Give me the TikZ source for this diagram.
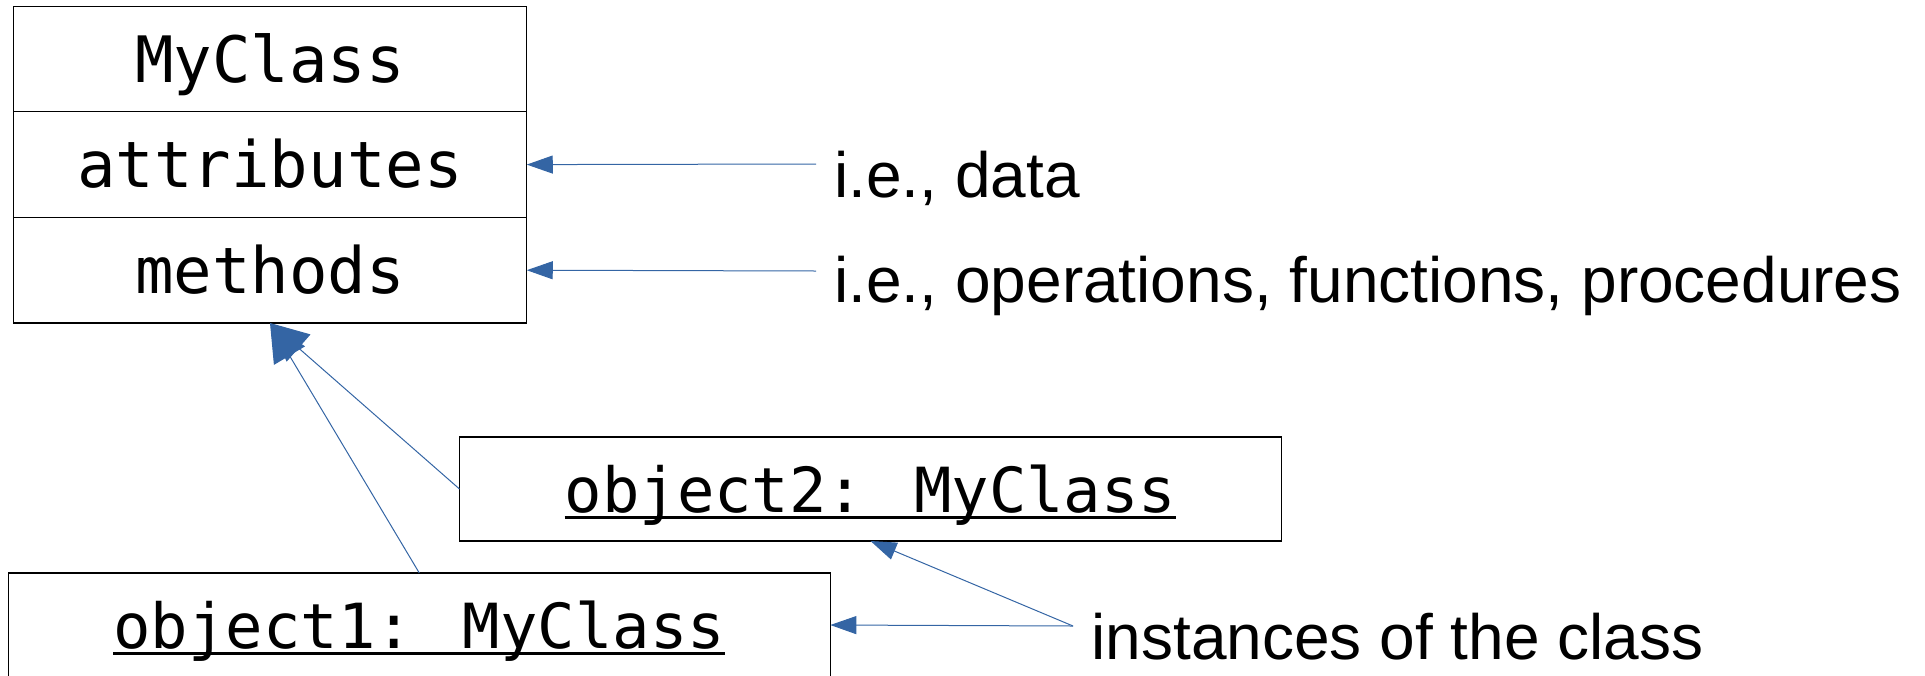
\documentclass[tikz,border=0pt]{standalone}
\usepackage{fontspec}
\usepackage{xcolor}
\usetikzlibrary{arrows.meta,positioning}
\newfontfamily\codefont{DejaVu Sans Mono}
\newfontfamily\notefont{Liberation Sans}
\definecolor{linkblue}{RGB}{52,101,164}
\newcommand{\uline}[1]{\setbox0\hbox{#1}\rlap{\rule[-3.5pt]{\wd0}{1.6pt}}\box0}
\tikzset{
  umlbox/.style={draw, fill=white, line width=0.6pt, outer sep=0pt, inner sep=0pt,
    text height=29pt, text depth=6pt, font=\codefont\fontsize{32}{38}\selectfont},
  clsbox/.style={umlbox, minimum width=256.75pt, minimum height=52.8pt},
  objbox/.style={umlbox, minimum width=411pt, minimum height=52pt,
    font=\codefont\fontsize{31.1}{37}\selectfont},
  note/.style={anchor=base west, inner sep=0pt, font=\notefont\fontsize{32}{38}\selectfont},
  pointer/.style={linkblue, line width=0.5pt, -{Triangle[length=13pt,width=9pt]}},
  inherit/.style={linkblue, line width=0.5pt, -{Triangle[length=19pt,width=18pt]}}
}

\begin{document}
\begin{tikzpicture}[x=0.5pt, y=-0.5pt]
\useasboundingbox (0,0) rectangle (1925,675);
% the class
\node[clsbox] (cname) at (270,59) {MyClass};
\node[clsbox, below=0pt of cname] (cattr) {attributes};
\node[clsbox, below=0pt of cattr] (cmeth) {methods};
% the objects
\node[objbox] (obj2) at (870.5,489) {\uline{object2: MyClass}};
\node[objbox] (obj1) at (419.3,625) {\uline{object1: MyClass}};
% notes
\node[note] (dnote) at (834,197) {i.e., data};
\node[note] (mnote) at (834,302) {i.e., operations, functions, procedures};
\node[note] (inote) at (1091,659) {instances of the class};
\coordinate (dfrom) at (816,164);
\coordinate (mfrom) at (816,271);
\coordinate (ifrom) at (1073,626);
% arrows
\draw[pointer] (dfrom) -- (cattr.east);
\draw[pointer] (mfrom) -- (cmeth.east);
\draw[pointer] (ifrom) -- (obj1.east);
\draw[pointer] (ifrom) -- (obj2.south);
\draw[inherit] (obj1.north) -- (cmeth.south);
\draw[inherit] (obj2.west) -- (cmeth.south);
\end{tikzpicture}
\end{document}
